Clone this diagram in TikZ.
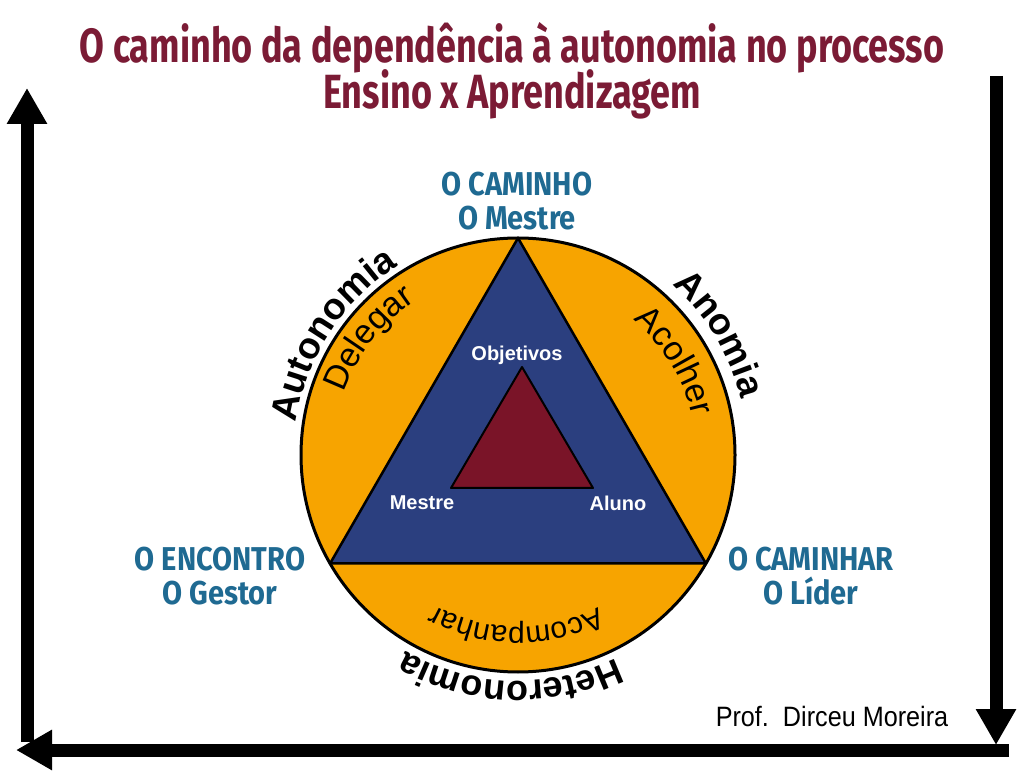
\documentclass[tikz,border=0pt]{standalone}
\usepackage{fontspec}
\setmainfont{Liberation Sans}
\newfontfamily\condfont{Fira Sans}[FakeStretch=0.75]
\newfontfamily\labelfont{Fira Sans}[FakeStretch=0.88]
\newfontfamily\narrowfont{Liberation Sans}[FakeStretch=0.9]
\usetikzlibrary{arrows.meta,decorations.text,calc}
\definecolor{orangefill}{HTML}{F7A400}
\definecolor{bluetri}{HTML}{2B3F7F}
\definecolor{redtri}{HTML}{7A1428}
\definecolor{titlered}{HTML}{7B1B35}
\definecolor{labelblue}{HTML}{1F6A92}
\newcommand\arclabel[5]{%
  \path[decorate,decoration={text along path,
      text={|#4|#5},text align=center}]
    ($(C)+(#2+70:#3)$) arc[start angle=#2+70,end angle=#2-70,radius=#3];}
\begin{document}
\begin{tikzpicture}[x=1pt,y=1pt,
  bigarrow/.style={line width=13pt,-{Triangle[width=38pt,length=36pt]}},
  titlestyle/.style={text=titlered,font=\condfont\bfseries\fontsize{48}{48}\selectfont,inner sep=0pt},
  pointlabel/.style={text=labelblue,align=center,font=\labelfont\bfseries\fontsize{33}{34}\selectfont,inner sep=0pt},
  innerlabel/.style={text=white,font=\bfseries\fontsize{20}{20}\selectfont,inner sep=0pt}]
\useasboundingbox (0,0) rectangle (1024,776);
\fill[white] (0,0) rectangle (1024,776);

% title
\node[titlestyle] (title1) at (512,728) {O caminho da dependência à autonomia no processo};
\node[titlestyle] (title2) at (512,682) {Ensino x Aprendizagem};

% frame arrows
\coordinate (lbot) at (27,34);
\coordinate (ltop) at (27,688);
\coordinate (bright) at (1009,26);
\coordinate (bleft) at (16,26);
\coordinate (rtop) at (996,700);
\coordinate (rbot) at (996,31);
\draw[bigarrow] (lbot) -- (ltop);
\draw[bigarrow] (bright) -- (bleft);
\draw[bigarrow] (rtop) -- (rbot);

% circle and triangles
\coordinate (C) at (518,321);
\draw[line width=3pt,fill=orangefill] (C) circle[radius=217];
\coordinate (A1) at ($(C)+(90:217)$);
\coordinate (A2) at ($(C)+(210:217)$);
\coordinate (A3) at ($(C)+(330:217)$);
\draw[line width=2.5pt,fill=bluetri,line join=round] (A1) -- (A2) -- (A3) -- cycle;
\coordinate (B1) at (522,409);
\coordinate (B2) at (451,288);
\coordinate (B3) at (593,288);
\draw[line width=2pt,fill=redtri,line join=round] (B1) -- (B2) -- (B3) -- cycle;

\node[innerlabel] (obj) at (517,421) {Objetivos};
\node[innerlabel] (mes) at (422,273) {Mestre};
\node[innerlabel] (alu) at (618,273) {Aluno};

% vertex labels
\node[pointlabel] (top) at (517,575) {O CAMINHO\\O Mestre};
\node[pointlabel] (left) at (220,200) {O ENCONTRO\\O Gestor};
\node[pointlabel] (right) at (811,200) {O CAMINHAR\\O Líder};

% curved labels
\arclabel{Autonomia}{147}{224}{\bfseries\fontsize{37}{37}\selectfont}{Autonomia}
\arclabel{Delegar}{142}{185}{\fontsize{34}{34}\selectfont}{Delegar}
\arclabel{Anomia}{31}{230}{\bfseries\fontsize{37}{37}\selectfont}{Anomia}
\arclabel{Acolher}{31}{178}{\fontsize{34}{34}\selectfont}{Acolher}
\arclabel{Acompanhar}{269.5}{172}{\fontsize{30}{30}\selectfont}{Acompanhar}
\arclabel{Heteronomia}{268}{226}{\bfseries\fontsize{36}{36}\selectfont}{Heteronomia}

\node[font=\narrowfont\fontsize{28}{28}\selectfont,inner sep=0pt] (author) at (832,60) {Prof.\ \ Dirceu Moreira};
\end{tikzpicture}
\end{document}
